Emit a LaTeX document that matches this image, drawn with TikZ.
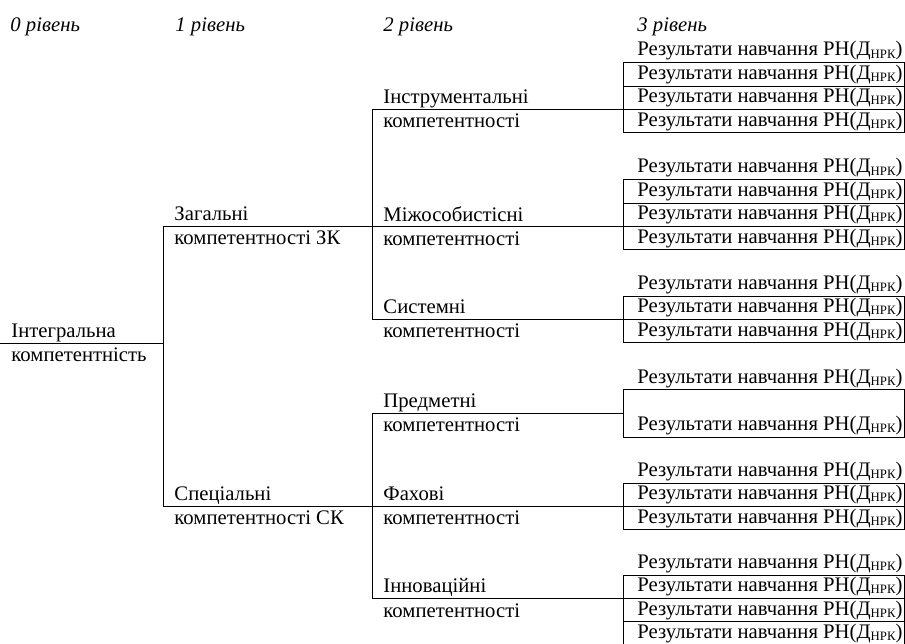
\documentclass[tikz,border=0pt]{standalone}
\usepackage{fontspec}
\setmainfont{Liberation Serif}
\newcommand{\nrk}{\raisebox{-0.1em}{\fontsize{12.8pt}{13pt}\selectfont НРК}}
\newcommand{\resrow}{\makebox[253pt][l]{Результати навчання РН(Д\nrk)}}

\begin{document}
\begin{tikzpicture}[x=1pt,y=-1pt,line width=0.9pt,
  txt/.style={font=\fontsize{20.7pt}{24.3pt}\selectfont},
  hdr/.style={font=\fontsize{20.7pt}{24.3pt}\selectfont\itshape,anchor=base west,inner sep=0pt},
  lvl/.style={txt,align=left,anchor=west,inner xsep=11pt,inner ysep=0pt},
  res/.style={txt,anchor=north west,inner xsep=14pt,inner ysep=0pt,minimum height=23.4pt,
    text height=14pt,text depth=4pt},
  resbox/.style={res,draw}]
  \useasboundingbox (0,0) rectangle (905,643);
  % Level headings
  \node[hdr] (h0) at (10,31.5) {0 рівень};
  \node[hdr] (h1) at (175,31.5) {1 рівень};
  \node[hdr] (h2) at (383,31.5) {2 рівень};
  \node[hdr] (h3) at (637,31.5) {3 рівень};

  % Level 0 and 1
  \node[lvl] (int) at (0,343) {Інтегральна\\компетентність};
  \node[lvl] (zk) at (163,226) {Загальні\\компетентності ЗК};
  \node[lvl] (sk) at (163,506) {Спеціальні\\компетентності СК};

  % Level 2
  \node[lvl] (instr) at (372,109) {Інструментальні\\компетентності};
  \node[lvl] (mizh) at (372,226) {Міжособистісні\\компетентності};
  \node[lvl] (syst) at (372,319) {Системні\\компетентності};
  \node[lvl] (predm) at (372,413) {Предметні\\компетентності};
  \node[lvl] (fakh) at (372,506) {Фахові\\компетентності};
  \node[lvl] (innov) at (372,598) {Інноваційні\\компетентності};

  % Level 3 results
  \node[res] (r11) at (623,38.8) {\resrow};
  \node[resbox] (r12) at (623,62.2) {\resrow};
  \node[resbox] (r13) at (623,85.6) {\resrow};
  \node[resbox] (r14) at (623,109) {\resrow};

  \node[res] (r21) at (623,155.8) {\resrow};
  \node[resbox] (r22) at (623,179.2) {\resrow};
  \node[resbox] (r23) at (623,202.6) {\resrow};
  \node[resbox] (r24) at (623,226) {\resrow};

  \node[res] (r31) at (623,272.2) {\resrow};
  \node[resbox] (r32) at (623,295.6) {\resrow};
  \node[resbox] (r33) at (623,319) {\resrow};

  \node[res] (r41) at (623,366.2) {\resrow};
  \node[res] (r42) at (623,389.6) {};
  \node[res] (r43) at (623,413) {\resrow};
  \draw (r42.north west) rectangle (r43.south east);

  \node[res] (r51) at (623,459.2) {\resrow};
  \node[resbox] (r52) at (623,482.6) {\resrow};
  \node[resbox] (r53) at (623,506) {\resrow};

  \node[res] (r61) at (623,551.2) {\resrow};
  \node[resbox] (r62) at (623,574.6) {\resrow};
  \node[resbox] (r63) at (623,598) {\resrow};
  \node[resbox] (r64) at (623,621.4) {\resrow};

  % Tree lines
  \draw (int.west) -- (int.west -| zk.west);
  \draw (zk.west) -- (sk.west);
  \draw (zk.west) -- (mizh.west);
  \draw (sk.west) -- (fakh.west);
  \draw (instr.west) -- (syst.west);
  \draw (predm.west) -- (innov.west);
  \draw (instr.west) -- (r14.north west);
  \draw (mizh.west) -- (r24.north west);
  \draw (syst.west) -- (r33.north west);
  \draw (predm.west) -- (r43.north west);
  \draw (fakh.west) -- (r53.north west);
  \draw (innov.west) -- (r63.north west);
\end{tikzpicture}
\end{document}
